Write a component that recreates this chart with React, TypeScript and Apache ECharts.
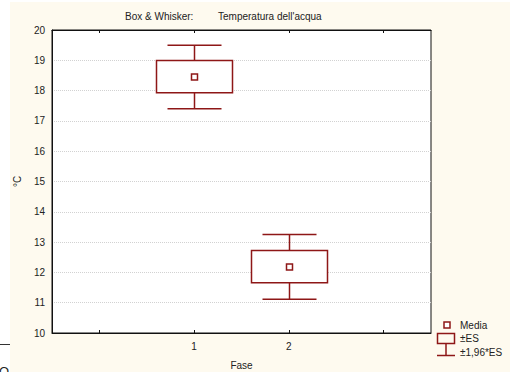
import React, { useEffect, useRef } from "react";
import * as echarts from "echarts";

// Water temperature per phase: mean, ±SE box, ±1.96*SE whiskers
const phases = [1, 2];
const means = [18.45, 12.18];
const seLow = [17.93, 11.66];
const seHigh = [18.99, 12.72];
const ciLow = [17.4, 11.11];
const ciHigh = [19.5, 13.25];
const yTicks = [10, 11, 12, 13, 14, 15, 16, 17, 18, 19, 20];
const xTickValues = [0, 1, 2, 3];

const RED = "#8e1717";
const FONT = "Liberation Sans, Arial, sans-serif";

export default function App() {
  const ref = useRef<HTMLDivElement>(null);

  useEffect(() => {
    if (!ref.current) return;
    const chart = echarts.init(ref.current, undefined, { renderer: "svg" });

    const data = phases.map((p, i) => [p, ciLow[i], seLow[i], means[i], seHigh[i], ciHigh[i]]);

    chart.setOption({
      animation: false,
      backgroundColor: "#ffffff",
      textStyle: { fontFamily: FONT },
      graphic: [
        { type: "rect", z: -10, silent: true, shape: { x: 10, y: 2, width: 500, height: 372 }, style: { fill: "#fefaef" } },
        { type: "line", shape: { x1: 0, y1: 344.5, x2: 10, y2: 344.5 }, style: { stroke: "#333", lineWidth: 1 } },
        { type: "text", x: -1, y: 365, style: { text: "O", font: `13px ${FONT}`, fill: "#222", verticalAlign: "top" } },
        { type: "text", x: 125, y: 16, style: { text: "Box & Whisker:", font: `10px ${FONT}`, fill: "#222", verticalAlign: "middle" } },
        { type: "text", x: 218, y: 16, style: { text: "Temperatura dell'acqua", font: `10px ${FONT}`, fill: "#222", verticalAlign: "middle" } },
        // legend
        { type: "rect", shape: { x: 444, y: 322, width: 6, height: 6 }, style: { fill: "#fff", stroke: RED, lineWidth: 1.5 } },
        { type: "text", x: 460, y: 325, style: { text: "Media", font: `10px ${FONT}`, fill: "#222", verticalAlign: "middle" } },
        { type: "rect", shape: { x: 437.5, y: 333.5, width: 17, height: 10 }, style: { fill: "none", stroke: RED, lineWidth: 1.5 } },
        { type: "text", x: 460, y: 338.5, style: { text: "±ES", font: `10px ${FONT}`, fill: "#222", verticalAlign: "middle" } },
        { type: "line", shape: { x1: 446, y1: 343.5, x2: 446, y2: 355.5 }, style: { stroke: RED, lineWidth: 1.5 } },
        { type: "line", shape: { x1: 437, y1: 355.5, x2: 455, y2: 355.5 }, style: { stroke: RED, lineWidth: 1.5 } },
        { type: "text", x: 460, y: 352, style: { text: "±1,96*ES", font: `10px ${FONT}`, fill: "#222", verticalAlign: "middle" } },
      ],
      grid: {
        left: 52,
        top: 30,
        width: 379,
        height: 303,
        outerBoundsMode: "none",
        containLabel: false,
        show: true,
        backgroundColor: "#ffffff",
        borderColor: "#111",
        borderWidth: 1,
      },
      xAxis: [
        {
          type: "value",
          min: -0.5,
          max: 3.5,
          name: "Fase",
          nameLocation: "middle",
          nameGap: 27,
          nameTextStyle: { fontSize: 10, color: "#222", fontFamily: FONT },
          axisLine: { show: true, onZero: false, lineStyle: { color: "#111" } },
          axisTick: { show: true, inside: true, length: 3, customValues: xTickValues, lineStyle: { color: "#111" } },
          axisLabel: { customValues: phases, margin: 8, fontSize: 10, color: "#222", fontFamily: FONT },
          splitLine: { show: false },
        },
        {
          type: "value",
          position: "top",
          min: -0.5,
          max: 3.5,
          axisLine: { show: true, onZero: false, lineStyle: { color: "#111" } },
          axisTick: { show: true, inside: true, length: 3, customValues: xTickValues, lineStyle: { color: "#111" } },
          axisLabel: { show: false },
          splitLine: { show: false },
        },
      ],
      yAxis: {
        type: "value",
        min: yTicks[0],
        max: yTicks[yTicks.length - 1],
        interval: 1,
        name: "°C",
        nameLocation: "middle",
        nameGap: 27,
        nameRotate: 90,
        nameTextStyle: { fontSize: 10, color: "#222", fontFamily: FONT },
        axisLine: { show: true, onZero: false, lineStyle: { color: "#111" } },
        axisTick: { show: false },
        axisLabel: { margin: 7, fontSize: 10, color: "#222", fontFamily: FONT },
        splitLine: { show: true, lineStyle: { color: "#d2d2d2", type: [1, 1], width: 1 } },
      },
      series: [
        {
          type: "custom",
          xAxisIndex: 0,
          yAxisIndex: 0,
          clip: false,
          data,
          encode: { x: 0, y: [1, 2, 3, 4, 5] },
          renderItem: (params: any, api: any) => {
            const x = api.value(0);
            const pLow = api.coord([x, api.value(1)]);
            const pBoxLow = api.coord([x, api.value(2)]);
            const pMean = api.coord([x, api.value(3)]);
            const pBoxHigh = api.coord([x, api.value(4)]);
            const pHigh = api.coord([x, api.value(5)]);
            const cx = Math.round(pMean[0]) + 0.5;
            const boxHalf = 38;
            const capHalf = 27;
            const st = { stroke: RED, lineWidth: 1.5, fill: "none" };
            return {
              type: "group",
              children: [
                { type: "line", shape: { x1: cx, y1: pHigh[1], x2: cx, y2: pBoxHigh[1] }, style: st },
                { type: "line", shape: { x1: cx, y1: pBoxLow[1], x2: cx, y2: pLow[1] }, style: st },
                { type: "line", shape: { x1: cx - capHalf, y1: pHigh[1], x2: cx + capHalf, y2: pHigh[1] }, style: st },
                { type: "line", shape: { x1: cx - capHalf, y1: pLow[1], x2: cx + capHalf, y2: pLow[1] }, style: st },
                {
                  type: "rect",
                  shape: { x: cx - boxHalf, y: pBoxHigh[1], width: boxHalf * 2, height: pBoxLow[1] - pBoxHigh[1] },
                  style: { stroke: RED, lineWidth: 1.5, fill: "#ffffff" },
                },
                {
                  type: "rect",
                  shape: { x: cx - 3, y: pMean[1] - 3, width: 6, height: 6 },
                  style: { stroke: RED, lineWidth: 1.5, fill: "#ffffff" },
                },
              ],
            };
          },
        },
      ],
    });

    return () => chart.dispose();
  }, []);

  return (
    <div
      ref={ref}
      style={{ position: "fixed", left: 0, top: 0, width: 514, height: 372 }}
    />
  );
}
